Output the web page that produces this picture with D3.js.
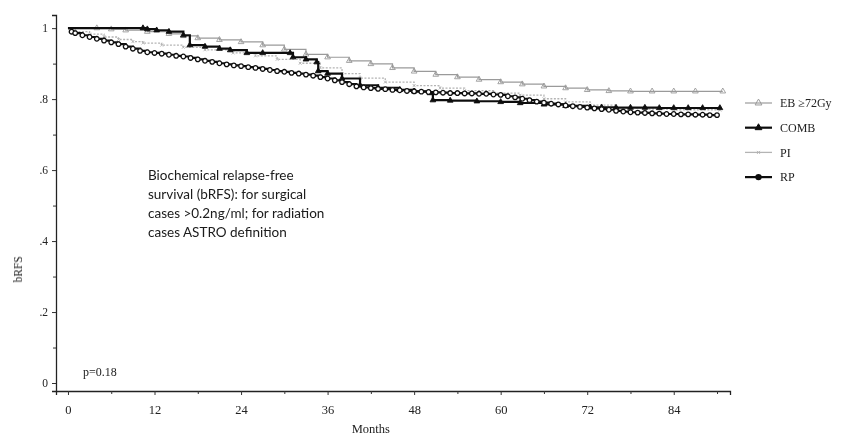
<!DOCTYPE html>
<html lang="en">
<head>
<meta charset="UTF-8">
<title>bRFS by treatment</title>
<script src="https://d3js.org/d3.v7.min.js"></script>
<style>
  body { margin: 0; background: #fff; }
  svg { display: block; }
  .tick text { font-family: "Liberation Serif", "DejaVu Serif", serif; fill: #222; }
  .note { font-family: Lato, "Open Sans", sans-serif; font-size: 13.5px; fill: #1a1a1a; }
  .serif { font-family: "Liberation Serif", "DejaVu Serif", serif; fill: #222; }
</style>
</head>
<body>
<svg id="chart" width="861" height="436"></svg>
<script>
// months and survival values (Kaplan-Meier steps)
const ebData = [[0,1],[4,1],[6,0.997],[8,0.994],[11,0.99],[14,0.984],[16,0.978],[18,0.972],[21,0.967],[24,0.961],
  [27,0.952],[30,0.94],[33,0.926],[36,0.918],[39,0.908],[42,0.899],[45,0.888],[48,0.878],[51,0.869],[54,0.862],
  [57,0.855],[60,0.848],[63,0.842],[66,0.836],[69,0.831],[72,0.826],[75,0.823],[78,0.822],[81,0.822],[84,0.822],[87,0.822],[90.8,0.822]];
const combData = [[0,1],[10.4,1],[11,0.997],[12.3,0.994],[14,0.99],[16,0.98],[16.9,0.952],[19,0.948],[21,0.942],[22.5,0.938],
  [24.8,0.93],[27,0.93],[30.8,0.93],[31.2,0.918],[33,0.912],[34.5,0.904],[34.7,0.879],[36,0.872],[38,0.858],[40.5,0.839],[43,0.832],
  [46,0.826],[48,0.822],[50.2,0.817],[50.6,0.797],[53,0.796],[56.7,0.794],[60,0.792],[62.7,0.789],[66,0.785],[69,0.781],[72.4,0.777],
  [74,0.777],[76,0.776],[78,0.776],[80,0.776],[82,0.775],[84,0.775],[86,0.775],[88,0.775],[90.4,0.775]];
const piData = [[0,1],[1,0.99],[3,0.983],[5,0.975],[7,0.968],[9,0.962],[10.4,0.958],[13,0.952],[16,0.946],[19,0.939],
  [22.9,0.93],[26,0.922],[29,0.912],[32.2,0.901],[35,0.888],[38,0.872],[40.5,0.859],[44,0.848],[48,0.838],[51.6,0.831],
  [55,0.824],[59,0.817],[62.7,0.811],[66,0.801],[69,0.792],[72.4,0.783],[76,0.776],[80,0.772],[84,0.77],[90.4,0.769]];
const rpData = [[0,1],[0.5,0.99],[1,0.986],[2,0.98],[3,0.975],[4,0.97],[5,0.965],[6,0.96],[7,0.955],[8,0.948],[9,0.942],
  [10,0.936],[11,0.932],[12,0.93],[13,0.928],[14,0.925],[15,0.922],[16,0.92],[17,0.916],[18,0.912],[19,0.908],[20,0.905],
  [21,0.901],[22,0.898],[23,0.895],[24,0.893],[25,0.89],[26,0.888],[27,0.885],[28,0.882],[29,0.879],[30,0.877],[31,0.874],
  [32,0.872],[33,0.869],[34,0.866],[35,0.862],[36,0.858],[37,0.853],[38,0.848],[39,0.842],[40,0.836],[41,0.833],[42,0.831],
  [43,0.829],[44,0.828],[45,0.826],[46,0.825],[47,0.823],[48,0.822],[49,0.821],[50,0.82],[51,0.819],[52,0.818],[53,0.817],
  [54,0.817],[55,0.816],[56,0.816],[57,0.815],[58,0.815],[59,0.813],[60,0.812],[61,0.808],[62,0.805],[63,0.801],[64,0.797],
  [65,0.793],[66,0.79],[67,0.787],[68,0.785],[69,0.782],[70,0.78],[71,0.778],[72,0.776],[73,0.774],[74,0.772],[75,0.77],
  [76,0.767],[77,0.765],[78,0.763],[79,0.762],[80,0.761],[81,0.76],[82,0.759],[83,0.758],[84,0.758],[85,0.757],[86,0.757],
  [87,0.756],[88,0.756],[89,0.755],[90,0.755]];

const seriesNames = ["EB \u226572Gy", "COMB", "PI", "RP"];
const xMajor = [0, 12, 24, 36, 48, 60, 72, 84];
const xMinor = [6, 18, 30, 42, 54, 66, 78, 90];
const yMajor = [0, 0.2, 0.4, 0.6, 0.8, 1];
const yMinor = [0.1, 0.3, 0.5, 0.7, 0.9];
const yLabels = ["0", ".2", ".4", ".6", ".8", "1"];
const noteLines = ["Biochemical relapse-free", "survival (bRFS): for surgical",
  "cases >0.2ng/ml; for radiation", "cases ASTRO definition"];
const pText = "p=0.18";

const svg = d3.select("#chart");
const x = d3.scaleLinear().domain([-1.66, 91.8]).range([56, 730]);
const y = d3.scaleLinear().domain([-0.0225, 1.037]).range([391, 15]);

svg.append("defs").append("filter").attr("id", "soft")
   .append("feGaussianBlur").attr("stdDeviation", 0.5);
const g = svg.append("g").attr("filter", "url(#soft)");

// axes
const xAxis = g.append("g").attr("transform", "translate(0,391)")
   .call(d3.axisBottom(x).tickValues(xMajor).tickSize(4).tickPadding(10));
g.append("g").attr("transform", "translate(0,391)")
   .call(d3.axisBottom(x).tickValues(xMinor).tickSize(3).tickFormat(""))
   .select(".domain").remove();
xAxis.selectAll(".tick text").attr("font-size", 12.5);

const yAxis = g.append("g").attr("transform", "translate(56,0)")
   .call(d3.axisLeft(y).tickValues(yMajor).tickSize(4).tickPadding(4)
     .tickFormat((d, i) => yLabels[i]));
g.append("g").attr("transform", "translate(56,0)")
   .call(d3.axisLeft(y).tickValues(yMinor).tickSize(3).tickFormat(""))
   .select(".domain").remove();
yAxis.selectAll(".tick text").attr("font-size", 11.5);

g.selectAll(".domain").attr("stroke", "#222").attr("stroke-width", 1.3);
g.selectAll(".tick line").attr("stroke", "#333");

// curves
const step = d3.line().x(d => x(d[0])).y(d => y(d[1])).curve(d3.curveStepAfter);
const styles = [
  {data: ebData, color: "#9a9a9a", width: 1.2, dash: null, mark: "tri"},
  {data: piData, color: "#b4b4b4", width: 1.3, dash: "2,1.5", mark: "x"},
  {data: combData, color: "#111", width: 2.2, dash: null, mark: "tri"},
  {data: rpData, color: "#111", width: 2.2, dash: null, mark: "circle"}
];
const symTri = d3.symbol().type(d3.symbolTriangle).size(14);

styles.forEach(s => {
  g.append("path").datum(s.data).attr("d", step)
   .attr("fill", "none").attr("stroke", s.color)
   .attr("stroke-width", s.width).attr("stroke-dasharray", s.dash);
  const m = g.append("g").selectAll("g").data(s.data.slice(1)).join("g")
   .attr("transform", d => `translate(${x(d[0])},${y(d[1])})`);
  if (s.mark === "circle") {
    m.append("circle").attr("r", 2.3).attr("fill", "#fff").attr("stroke", s.color).attr("stroke-width", 1.3);
  } else if (s.mark === "tri") {
    m.append("path").attr("d", symTri).attr("fill", s.color === "#111" ? s.color : "none")
     .attr("stroke", s.color).attr("stroke-width", 0.9);
  } else {
    m.append("path").attr("d", "M-1.5,-1.5L1.5,1.5M-1.5,1.5L1.5,-1.5").attr("stroke", s.color).attr("stroke-width", 0.8);
  }
});

// legend
const legOrder = [styles[0], styles[2], styles[1], styles[3]];
const leg = g.append("g").selectAll("g").data(seriesNames).join("g")
   .attr("transform", (d, i) => `translate(745,${103 + i * 24.7})`);
leg.append("line").attr("x1", 0).attr("x2", 27)
   .attr("stroke", (d, i) => legOrder[i].color)
   .attr("stroke-width", (d, i) => legOrder[i].width);
leg.each(function(d, i) {
  const s = legOrder[i], el = d3.select(this).append("g").attr("transform", "translate(13.5,0)");
  if (s.mark === "circle") el.append("circle").attr("r", 3.2).attr("fill", "#111");
  else if (s.mark === "tri") el.append("path").attr("d", d3.symbol().type(d3.symbolTriangle).size(20))
      .attr("fill", i === 1 ? "#111" : "none").attr("stroke", s.color);
  else el.append("path").attr("d", "M-1.5,-1.5L1.5,1.5M-1.5,1.5L1.5,-1.5").attr("stroke", s.color);
});
leg.append("text").attr("class", "serif").attr("x", 35).attr("dy", "0.35em")
   .attr("font-size", 12).text(d => d);

// labels
g.append("text").attr("class", "serif").attr("font-size", 12.5)
   .attr("x", x(42)).attr("y", 433).attr("text-anchor", "middle").text("Months");
g.append("text").attr("class", "serif").attr("font-size", 11.5)
   .attr("transform", "translate(22," + y(0.32) + ") rotate(-90)")
   .attr("text-anchor", "middle").text("bRFS");
g.append("text").attr("class", "serif").attr("font-size", 12)
   .attr("x", 83).attr("y", 376).text(pText);
g.append("text").attr("class", "note").selectAll("tspan").data(noteLines).join("tspan")
   .attr("x", 148).attr("y", (d, i) => 180 + i * 19).text(d => d);
</script>
</body>
</html>
